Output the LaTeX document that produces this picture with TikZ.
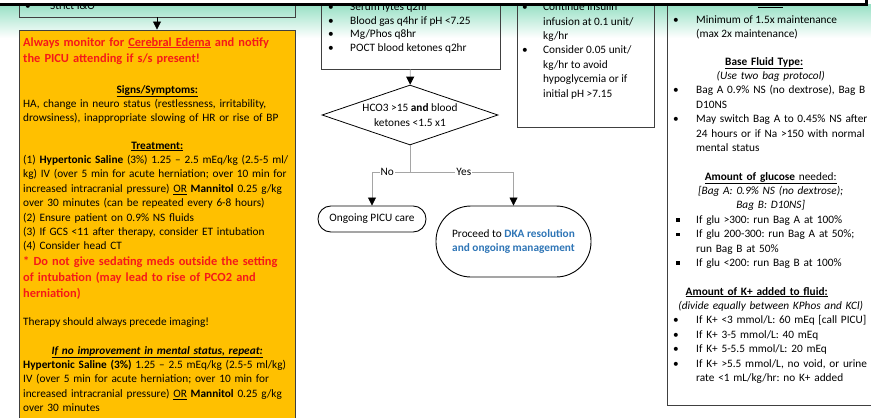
\documentclass[tikz,border=0pt]{standalone}
\usepackage{fontspec}
\setmainfont{Carlito}
\usepackage{tikz}
\usetikzlibrary{shapes.geometric,arrows.meta,positioning}

\definecolor{mint}{RGB}{150,224,196}
\definecolor{alertorange}{RGB}{255,192,0}
\definecolor{alertred}{RGB}{245,25,25}
\definecolor{linkblue}{RGB}{46,117,182}
\definecolor{linegray}{RGB}{165,165,165}
\definecolor{boxline}{RGB}{64,64,64}

\frenchspacing
\newcommand{\bodyfont}{\fontsize{11.3}{14.4}\selectfont}
\newcommand{\alertfont}{\fontsize{12.4}{16}\selectfont\bfseries}
\newcommand{\hd}[1]{\underline{\textbf{#1}}}
\newcommand{\bl}[2][22pt]{\makebox[#1][l]{\textbullet}#2}
\newcommand{\sq}[1]{\makebox[23pt][l]{\hspace{3pt}\rule[1.8pt]{3.3pt}{3.3pt}}#1}
\newcommand{\nx}[2][22pt]{\hspace*{#1}#2}

\tikzstyle{labbox} = [rectangle, draw=boxline, line width=0.9pt, inner sep=0pt]
\tikzstyle{alertbox} = [rectangle, draw=boxline, line width=0.9pt, fill=alertorange, inner sep=0pt]
\tikzstyle{txt} = [anchor=north west, inner sep=0pt, align=left, font=\bodyfont]
\tikzstyle{alerttxt} = [txt, text width=300pt, font=\alertfont, text=alertred]
\tikzstyle{decision} = [diamond, draw=black, line width=0.8pt, aspect=2.9, inner sep=0pt, minimum width=176pt, minimum height=60pt, align=center, font=\bodyfont]
\tikzstyle{terminal} = [rectangle, draw=black, line width=0.9pt, align=center, font=\bodyfont]
\tikzstyle{line} = [linegray, line width=0.8pt]
\tikzstyle{arrow} = [line, -{Triangle[black,length=8pt,width=8pt]}]
\tikzstyle{branch} = [fill=white, text=black, inner sep=1pt, font=\bodyfont]

\begin{document}
\begin{tikzpicture}[x=1pt, y=-1pt]
\useasboundingbox (0,0) rectangle (871,418);
\shade[top color=mint, bottom color=white] (0,4) rectangle (871,38);

% boxes
\node (iobox) [labbox, minimum width=276pt, minimum height=57pt] at (157,-11.5) {};
\node (edema) [alertbox, minimum width=276pt, minimum height=410pt] at (157,235) {};
\node (labs) [labbox, minimum width=179pt, minimum height=109pt] at (410.5,14.5) {};
\node (insulin) [labbox, minimum width=137pt, minimum height=167pt] at (585.5,43.5) {};
\node (fluids) [labbox, minimum width=238pt, minimum height=445pt] at (786,182.5) {};

\node (hco) [decision] at (410,115) {HCO3 >15 \textbf{and} blood\\ketones <1.5 x1};
\node (picu) [terminal, rounded corners=12.9pt, minimum width=108pt, minimum height=26pt] at (372,219) {Ongoing PICU care};
\node (dka) [terminal, rounded corners=35pt, minimum width=155pt, minimum height=71pt] at (513.5,241.5)
  {Proceed to \textcolor{linkblue}{\textbf{DKA resolution}}\\\textcolor{linkblue}{\textbf{and ongoing management}}};

% texts of the boxes
\node (iotext) [txt] at (25,-0.3) {\strut\bl[25pt]{Strict I\&O}};

\node (alert) [alerttxt] at (23,34.7) {\strut Always monitor for \underline{Cerebral Edema} and notify\\the PICU attending if s/s present!};
\node (signs) [txt, text width=300pt] at (23,82.9) {\strut\makebox[268pt]{\hd{Signs/Symptoms:}}\\
HA, change in neuro status (restlessness, irritability,\\
drowsiness), inappropriate slowing of HR or rise of BP};
\node (treat) [txt, text width=300pt] at (23,138.9) {\strut\makebox[268pt]{\hd{Treatment:}}\\
(1) \textbf{Hypertonic Saline} (3\%) 1.25 -- 2.5 mEq/kg (2.5-5 ml/\\
kg) IV (over 5 min for acute herniation; over 10 min for\\
increased intracranial pressure) \underline{OR} \textbf{Mannitol} 0.25 g/kg\\
over 30 minutes (can be repeated every 6-8 hours)\\
(2) Ensure patient on 0.9\% NS fluids\\
(3) If GCS <11 after therapy, consider ET intubation\\
(4) Consider head CT};
\node (warn) [alerttxt] at (23,253.9) {\strut * Do not give sedating meds outside the setting\\
of intubation (may lead to rise of PCO2 and\\
herniation)};
\node (therapy) [txt] at (23,314.9) {\strut Therapy should always precede imaging!};
\node (repeat) [txt, text width=300pt] at (23,343.9) {\strut\makebox[268pt]{\underline{\textbf{\textit{If no improvement in mental status, repeat:}}}}\\
\textbf{Hypertonic Saline (3\%)} 1.25 -- 2.5 mEq/kg (2.5-5 ml/kg)\\
IV (over 5 min for acute herniation; over 10 min for\\
increased intracranial pressure) \underline{OR} \textbf{Mannitol} 0.25 g/kg\\
over 30 minutes};

\node (labtext) [txt, font=\fontsize{11.3}{13.6}\selectfont] at (328,0.8) {\strut\bl{Serum lytes q2hr}\\
\bl{Blood gas q4hr if pH <7.25}\\
\bl{Mg/Phos q8hr}\\
\bl{POCT blood ketones q2hr}};

\node (insulintext) [txt] at (522,0.5) {\strut\bl[21pt]{Continue insulin}\\
\nx[21pt]{infusion at 0.1 unit/}\\
\nx[21pt]{kg/hr}\\
\bl[21pt]{Consider 0.05 unit/}\\
\nx[21pt]{kg/hr to avoid}\\
\nx[21pt]{hypoglycemia or if}\\
\nx[21pt]{initial pH >7.15}};

\node (ratehead) [txt] at (673,-4.5) {\strut\makebox[195pt]{\hd{Rate:}}};
\node (rates) [txt] at (673,12.9) {\strut\bl[23pt]{Minimum of 1.5x maintenance}\\
\nx[23pt]{(max 2x maintenance)}};
\node (base) [txt, text width=215pt] at (673,54.9) {\strut\makebox[182pt]{\hd{Base Fluid Type:}}\\
\makebox[195pt]{\textit{(Use two bag protocol)}}\\
\bl[23pt]{Bag A 0.9\% NS (no dextrose), Bag B}\\
\nx[23pt]{D10NS}\\
\bl[23pt]{May switch Bag A to 0.45\% NS after}\\
\nx[23pt]{24 hours or if Na >150 with normal}\\
\nx[23pt]{mental status}};
\node (glucose) [txt, text width=215pt] at (673,169.9) {\strut\makebox[195pt]{\underline{\textbf{Amount of glucose} needed:}}\\
\makebox[195pt]{\textit{[Bag A: 0.9\% NS (no dextrose);}}\\
\makebox[195pt]{\textit{Bag B: D10NS]}}\\
\sq{If glu >300: run Bag A at 100\%}\\
\sq{If glu 200-300: run Bag A at 50\%;}\\
\nx[23pt]{run Bag B at 50\%}\\
\sq{If glu <200: run Bag B at 100\%}};
\node (potassium) [txt, text width=215pt] at (673,284.9) {\strut\makebox[167pt]{\hd{Amount of K+ added to fluid:}}\\
\makebox[195pt]{\textit{(divide equally between KPhos and KCl)}}\\
\bl[23pt]{If K+ <3 mmol/L: 60 mEq [call PICU]}\\
\bl[23pt]{If K+ 3-5 mmol/L: 40 mEq}\\
\bl[23pt]{If K+ 5-5.5 mmol/L: 20 mEq}\\
\bl[23pt]{If K+ >5.5 mmol/L, no void, or urine}\\
\nx[23pt]{rate <1 mL/kg/hr: no K+ added}};

% connectors
\coordinate[below=27pt of hco.south] (split);
\draw [arrow, black] (iobox) -- (edema);
\draw [arrow] (labs) -- (hco);
\draw [line] (hco) -- (split);
\draw [arrow] (split) -| node[branch, pos=0.3] {No} (picu);
\draw [arrow] (split) -| node[branch, pos=0.26] {Yes} (dka);

% cover band on top
\fill[white] (-2,-2) rectangle (866,4);
\draw[line width=3pt] (-2,4.5) -- (866,4.5) -- (866,-2);
\end{tikzpicture}
\end{document}
